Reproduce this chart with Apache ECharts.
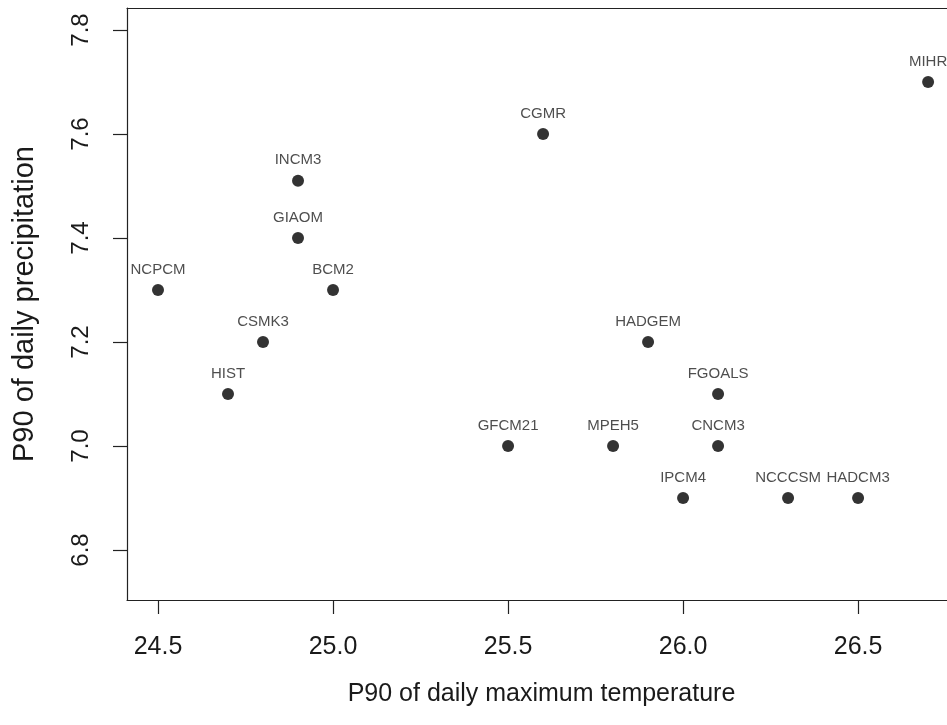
<!DOCTYPE html>
<html>
<head>
<meta charset="utf-8">
<script src="https://cdn.jsdelivr.net/npm/echarts@6/dist/echarts.min.js"></script>
<style>
  html, body { margin: 0; padding: 0; background: #fff; }
  #chart { width: 947px; height: 725px; }
</style>
</head>
<body>
<div id="chart"></div>
<script>
// model names and their P90 values
const models = ['NCPCM', 'HIST', 'CSMK3', 'INCM3', 'GIAOM', 'BCM2', 'CGMR', 'GFCM21', 'MPEH5', 'HADGEM', 'IPCM4', 'FGOALS', 'CNCM3', 'NCCCSM', 'HADCM3', 'MIHR'];
const tempP90 = [24.5, 24.7, 24.8, 24.9, 24.9, 25.0, 25.6, 25.5, 25.8, 25.9, 26.0, 26.1, 26.1, 26.3, 26.5, 26.7];
const precipP90 = [7.3, 7.1, 7.2, 7.51, 7.4, 7.3, 7.6, 7.0, 7.0, 7.2, 6.9, 7.1, 7.0, 6.9, 6.9, 7.7];

const xTicks = [24.5, 25.0, 25.5, 26.0, 26.5];
const yTicks = [6.8, 7.0, 7.2, 7.4, 7.6, 7.8];

const FONT = 'Liberation Sans, Arial, sans-serif';
const chart = echarts.init(document.getElementById('chart'));

const points = models.map((m, i) => ({ name: m, value: [tempP90[i], precipP90[i]] }));

chart.setOption({
  animation: false,
  backgroundColor: '#fff',
  grid: { left: 127, top: 8, right: 0, bottom: 125 },
  xAxis: [
    {
      type: 'value',
      min: 24.4114,
      max: 26.754,
      splitLine: { show: false },
      axisLine: { show: true, lineStyle: { color: '#222', width: 1.2 } },
      axisTick: { show: true, length: 14, customValues: xTicks, lineStyle: { color: '#222', width: 1.2 } },
      axisLabel: {
        customValues: xTicks,
        formatter: (v) => v.toFixed(1),
        fontFamily: FONT, fontSize: 25, color: '#1a1a1a', margin: 35,
      },
      name: 'P90 of daily maximum temperature',
      nameLocation: 'middle',
      nameGap: 82,
      nameTextStyle: { fontFamily: FONT, fontSize: 25, color: '#1a1a1a', padding: [0, 0, 0, 9] },
    },
    {
      // top frame line
      type: 'value',
      position: 'top',
      min: 24.4114,
      max: 26.754,
      splitLine: { show: false },
      axisLine: { show: true, onZero: false, lineStyle: { color: '#222', width: 1.2 } },
      axisTick: { show: false },
      axisLabel: { show: false },
    },
  ],
  yAxis: {
    type: 'value',
    min: 6.7038,
    max: 7.8423,
    splitLine: { show: false },
    axisLine: { show: true, lineStyle: { color: '#222', width: 1.2 } },
    axisTick: { show: true, length: 14, customValues: yTicks, lineStyle: { color: '#222', width: 1.2 } },
    axisLabel: {
      customValues: yTicks,
      formatter: (v) => v.toFixed(1),
      rotate: 90,
      fontFamily: FONT, fontSize: 24, color: '#1a1a1a', margin: 34,
    },
    name: 'P90 of daily precipitation',
    nameLocation: 'middle',
    nameGap: 88,
    nameRotate: 90,
    nameTextStyle: { fontFamily: FONT, fontSize: 29, color: '#1a1a1a' },
  },
  series: [
    {
      type: 'scatter',
      xAxisIndex: 0,
      symbol: 'circle',
      symbolSize: 12,
      itemStyle: { color: '#000' },
      data: points,
      label: {
        show: true,
        position: 'top',
        distance: 7,
        formatter: (p) => p.name,
        fontFamily: FONT,
        fontSize: 15,
        color: '#222',
      },
    },
  ],
});
</script>
</body>
</html>
